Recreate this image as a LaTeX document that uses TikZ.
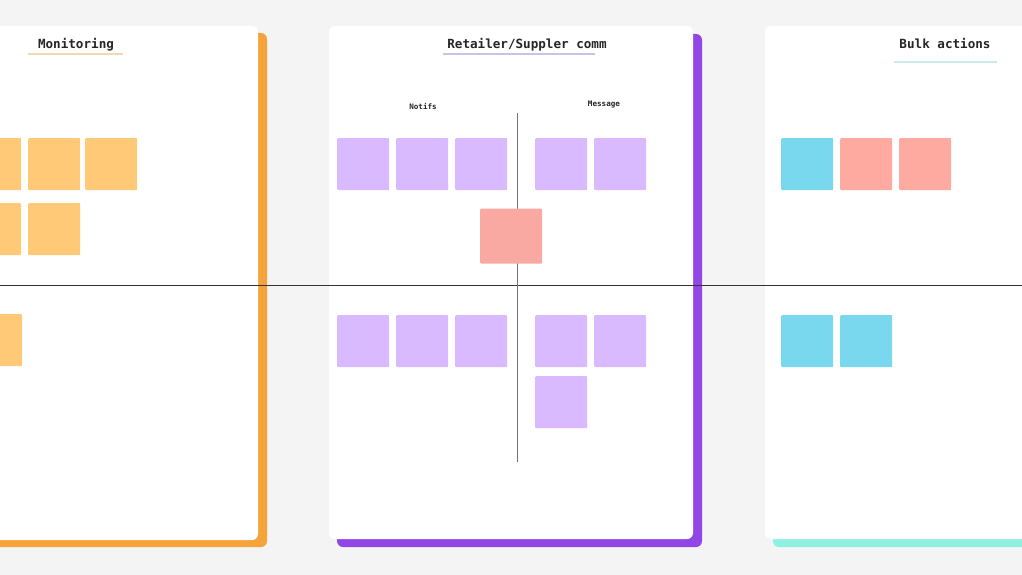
\documentclass[tikz,border=0pt]{standalone}
\usepackage{fontspec}
\setmonofont{DejaVu Sans Mono}
\definecolor{bgc}{HTML}{F4F4F4}
\definecolor{orangeedge}{HTML}{F4A43A}
\definecolor{purpleedge}{HTML}{9147E6}
\definecolor{tealedge}{HTML}{8EF0E0}
\definecolor{stickyorange}{HTML}{FFC977}
\definecolor{stickypurple}{HTML}{D9B9FF}
\definecolor{stickycyan}{HTML}{79D7EE}
\definecolor{stickysalmon}{HTML}{FFAAA0}
\definecolor{stickyred}{HTML}{FAA9A2}
\definecolor{ulorange}{HTML}{F2D9B0}
\definecolor{ulpurple}{HTML}{C9C3E6}
\definecolor{ulblue}{HTML}{CDEAF4}
\begin{document}
\begin{tikzpicture}[x=1pt,y=-1pt,
  card/.style={fill=white,rounded corners=6pt},
  shade/.style={rounded corners=6pt},
  sticky/.style={minimum width=52pt,minimum height=52pt,inner sep=0pt,rounded corners=1pt,anchor=north west},
  title/.style={font=\ttfamily\bfseries\fontsize{12.6}{14}\selectfont,text=black!85,inner sep=0pt,anchor=base},
  sub/.style={font=\ttfamily\bfseries\fontsize{7.6}{9}\selectfont,text=black!85,inner sep=0pt,anchor=base},
  uline/.style={line width=1.2pt}
]
\useasboundingbox (0,0) rectangle (1022,575);
\clip (0,0) rectangle (1022,575);
\fill[bgc] (0,0) rectangle (1022,575);

% panel shadows and cards
\fill[shade,orangeedge] (-20,33) rectangle (267,547);
\fill[card] (-28,26) rectangle (258,540);
\fill[shade,purpleedge] (337,34) rectangle (702,547);
\fill[card] (329,26) rectangle (693,539);
\fill[shade,tealedge] (773,34) rectangle (1060,547);
\fill[card] (765,26) rectangle (1052,539);

% titles
\node[title] (tmon) at (76,48.5) {Monitoring};
\draw[uline,ulorange] (28,54) -- (123,54);
\node[title] (tret) at (527,48.5) {Retailer/Suppler comm};
\draw[uline,ulpurple] (443,54) -- (595,54);
\node[title] (tbulk) at (945,48.5) {Bulk actions};
\draw[uline,ulblue] (894,62) -- (997,62);

\node[sub] (notifs) at (423,110) {Notifs};
\node[sub] (message) at (604,107) {Message};

% axes
\coordinate (hl) at (0,285);
\coordinate (hr) at (1022,285);
\coordinate (vt) at (517,113);
\coordinate (vb) at (517,462);
\draw[black!80,line width=0.7pt] (hl) -- (hr);
\draw[black!55,line width=1pt] (vt) -- (vb);

% monitoring stickies
\node[sticky,fill=stickyorange] (m1) at (-31,138) {};
\node[sticky,fill=stickyorange] (m2) at (28,138) {};
\node[sticky,fill=stickyorange] (m3) at (85,138) {};
\node[sticky,fill=stickyorange] (m4) at (-31,203) {};
\node[sticky,fill=stickyorange] (m5) at (28,203) {};
\node[sticky,fill=stickyorange] (m6) at (-30,314) {};

% notifs stickies
\node[sticky,fill=stickypurple] (n1) at (337,138) {};
\node[sticky,fill=stickypurple] (n2) at (396,138) {};
\node[sticky,fill=stickypurple] (n3) at (455,138) {};
\node[sticky,fill=stickypurple] (n4) at (337,315) {};
\node[sticky,fill=stickypurple] (n5) at (396,315) {};
\node[sticky,fill=stickypurple] (n6) at (455,315) {};

% message stickies
\node[sticky,fill=stickypurple] (s1) at (535,138) {};
\node[sticky,fill=stickypurple] (s2) at (594,138) {};
\node[sticky,fill=stickypurple] (s3) at (535,315) {};
\node[sticky,fill=stickypurple] (s4) at (594,315) {};
\node[sticky,fill=stickypurple] (s5) at (535,376) {};

% center red sticky
\node[sticky,fill=stickyred,minimum width=62pt,minimum height=55pt] (red) at (480,208.5) {};

% bulk actions stickies
\node[sticky,fill=stickycyan] (b1) at (781,138) {};
\node[sticky,fill=stickysalmon] (b2) at (840,138) {};
\node[sticky,fill=stickysalmon] (b3) at (899,138) {};
\node[sticky,fill=stickycyan] (b4) at (781,315) {};
\node[sticky,fill=stickycyan] (b5) at (840,315) {};
\end{tikzpicture}
\end{document}
